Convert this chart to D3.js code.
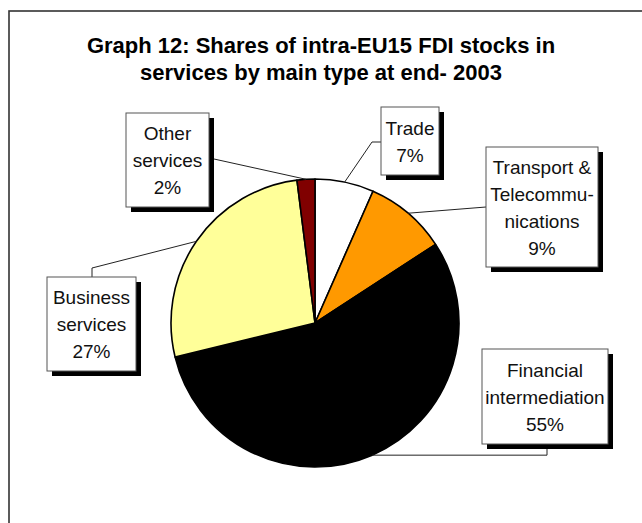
<html>
  <head>
    <meta charset="UTF-8" />
    <script src="https://d3js.org/d3.v7.min.js"></script>
    <style>
      body { margin: 0; background: white; }
      text { font-family: "Liberation Sans", Arial, sans-serif; }
    </style>
  </head>
  <body>
    <svg id="svg"></svg>
    <script>
      // chart data
      var categories = ["Trade", "Transport & Telecommunications", "Financial intermediation", "Business services", "Other services"];
      var values = [6.6, 9.2, 55.4, 26.8, 2.0];
      var labels = ["7%", "9%", "55%", "27%", "2%"];
      var titleLines = ["Graph 12: Shares of intra-EU15 FDI stocks in", "services by main type at end- 2003"];

      var colors = ["#ffffff", "#ff9900", "#000000", "#ffff99", "url(#redgrad)"];

      // label boxes: layout only
      var boxes = [
        { x: 381, y: 107, w: 58, h: 68, lines: ["Trade"], leader: (p) => [p, [372, 142], [381, 142]] },
        { x: 486, y: 147, w: 112, h: 120, lines: ["Transport &", "Telecommu-", "nications"], leader: (p) => [p, [486, 207]] },
        { x: 482, y: 349, w: 126, h: 95, lines: ["Financial", "intermediation"], leader: (p) => [p, [547, p[1]], [547, 446]] },
        { x: 47, y: 277, w: 89, h: 94, lines: ["Business", "services"], leader: (p) => [p, [92, 268], [92, 277]] },
        { x: 126, y: 113, w: 83, h: 94, lines: ["Other", "services"], leader: (p) => [p, [214, 159]] }
      ];

      var width = 642, height = 523;
      var cx = 315, cy = 323, r = 144;

      var svg = d3.select("#svg").attr("width", width).attr("height", height);

      var grad = svg.append("defs").append("linearGradient")
        .attr("id", "redgrad")
        .attr("gradientUnits", "userSpaceOnUse")
        .attr("x1", 0).attr("y1", cy - r + 8)
        .attr("x2", 0).attr("y2", cy - 70);
      grad.append("stop").attr("offset", "0%").attr("stop-color", "#800000");
      grad.append("stop").attr("offset", "100%").attr("stop-color", "#ff0000");

      // outer frame
      svg.append("rect")
        .attr("x", 9).attr("y", 11)
        .attr("width", 700).attr("height", 600)
        .attr("fill", "none")
        .attr("stroke", "#333")
        .attr("stroke-width", 1.6);

      svg.append("g")
        .selectAll("text")
        .data(titleLines)
        .enter()
        .append("text")
        .attr("x", 321)
        .attr("y", (d, i) => 53 + i * 27)
        .attr("text-anchor", "middle")
        .style("font-size", "22px")
        .style("font-weight", "bold")
        .text((d) => d);

      var pie = d3.pie().sort(null).value((d) => d)(values);
      var arc = d3.arc().innerRadius(0).outerRadius(r);
      var edge = d3.arc().innerRadius(r).outerRadius(r);

      var g = svg.append("g").attr("transform", "translate(" + cx + "," + cy + ")");

      // leader lines
      svg.append("g")
        .selectAll("polyline")
        .data(pie)
        .enter()
        .append("polyline")
        .attr("fill", "none")
        .attr("stroke", "#222")
        .attr("stroke-width", 1)
        .attr("points", (d, i) => {
          var c = edge.centroid(d);
          var p = [cx + c[0], cy + c[1]];
          return boxes[i].leader(p).map((q) => q.join(",")).join(" ");
        });

      g.selectAll("path")
        .data(pie)
        .enter()
        .append("path")
        .attr("d", arc)
        .attr("fill", (d, i) => colors[i])
        .attr("stroke", "#000")
        .attr("stroke-width", 1.6)
        .attr("stroke-linejoin", "round");

      // label boxes
      var lb = svg.append("g")
        .selectAll("g")
        .data(boxes)
        .enter()
        .append("g");

      lb.append("rect")
        .attr("x", (d) => d.x + 5).attr("y", (d) => d.y + 5)
        .attr("width", (d) => d.w).attr("height", (d) => d.h)
        .attr("fill", "#000");

      lb.append("rect")
        .attr("x", (d) => d.x).attr("y", (d) => d.y)
        .attr("width", (d) => d.w).attr("height", (d) => d.h)
        .attr("fill", "#fff")
        .attr("stroke", "#555")
        .attr("stroke-width", 1);

      lb.each(function (d, i) {
        var all = d.lines.concat([labels[i]]);
        var mid = d.y + d.h / 2;
        var top = mid - (all.length - 1) * 27 / 2;
        d3.select(this)
          .selectAll("text")
          .data(all)
          .enter()
          .append("text")
          .attr("x", d.x + d.w / 2)
          .attr("y", (t, j) => top + j * 27 + 7)
          .attr("text-anchor", "middle")
          .style("font-size", "19px")
          .attr("fill", "#111")
          .text((t) => t);
      });
    </script>
  </body>
</html>
